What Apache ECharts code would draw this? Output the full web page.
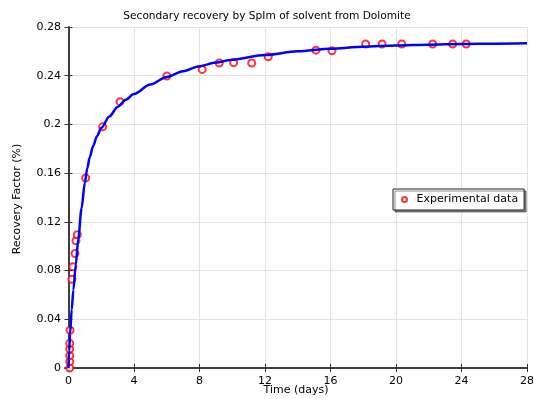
<!DOCTYPE html>
<html>
<head>
<meta charset="utf-8">
<script src="https://cdn.jsdelivr.net/npm/echarts@6/dist/echarts.min.js"></script>
<style>html,body{margin:0;padding:0;background:#fff}#c{width:534px;height:399px}</style>
</head>
<body>
<div id="c"></div>
<script>
// Experimental data
const expTime = [0.08, 0.08, 0.08, 0.08, 0.08, 0.1, 0.21, 0.27, 0.4, 0.46, 0.54, 1.05, 2.09, 3.15, 6.01, 8.17, 9.21, 10.09, 11.19, 12.2, 15.11, 16.09, 18.15, 19.15, 20.35, 22.24, 23.46, 24.29];
const expRecovery = [0, 0.0052, 0.0101, 0.0156, 0.0202, 0.031, 0.0728, 0.0832, 0.094, 0.1045, 0.1094, 0.156, 0.198, 0.2187, 0.2397, 0.2452, 0.2504, 0.2507, 0.2504, 0.2556, 0.261, 0.2605, 0.266, 0.266, 0.266, 0.266, 0.266, 0.266];
// Model curve
const modelTime = [0, 0.05, 0.1, 0.2, 0.3, 0.45, 0.6, 0.8, 1.0, 1.15, 1.3, 1.5, 1.75, 2.0, 2.5, 3.0, 3.5, 4.0, 5.0, 6.0, 7.0, 8.0, 9.0, 10, 12, 14, 16, 18, 20, 22, 24, 26, 28];
const modelRecovery = [0, 0.014, 0.028, 0.048, 0.064, 0.085, 0.106, 0.131, 0.152, 0.164, 0.173, 0.182, 0.1905, 0.197, 0.2065, 0.2143, 0.2203, 0.225, 0.2328, 0.239, 0.2437, 0.2478, 0.2508, 0.2532, 0.257, 0.26, 0.2622, 0.2638, 0.2648, 0.2655, 0.266, 0.2663, 0.2666];
// Tick labels
const xTicks = [0, 4, 8, 12, 16, 20, 24, 28];
const yTicks = [0, 0.04, 0.08, 0.12, 0.16, 0.2, 0.24, 0.28];

const FONT = 'DejaVu Sans';
const chart = echarts.init(document.getElementById('c'), null, {renderer: 'canvas'});
const axisLineStyle = {color: '#333', width: 1.5};
const tickStyle = {show: true, inside: true, length: 4, lineStyle: {color: '#333', width: 1}};
const gridLineStyle = {show: true, lineStyle: {color: '#e3e3e3', width: 1}};

chart.setOption({
  animation: false,
  backgroundColor: '#fff',
  textStyle: {fontFamily: FONT},
  title: {
    text: 'Secondary recovery by SpIm of solvent from Dolomite',
    left: 'center', top: 6,
    textStyle: {fontFamily: FONT, fontSize: 10.6, fontWeight: 'normal', color: '#000'}
  },
  grid: {left: 65, right: 7, top: 27, bottom: 28, containLabel: false, outerBoundsMode: 'none'},
  legend: {
    data: [{name: 'Experimental data', icon: 'emptyCircle'}],
    left: 393, top: 189,
    padding: [5, 6, 5, 8],
    itemWidth: 14, itemHeight: 5,
    backgroundColor: '#fff',
    borderColor: '#222', borderWidth: 1,
    shadowColor: 'rgba(0,0,0,0.45)', shadowBlur: 0, shadowOffsetX: 2, shadowOffsetY: 2,
    textStyle: {fontFamily: FONT, fontSize: 11, color: '#000'}
  },
  xAxis: [{
    type: 'value', min: -0.21, max: 28, position: 'bottom',
    name: 'Time (days)', nameLocation: 'middle', nameGap: 14, nameMoveOverlap: false,
    nameTextStyle: {fontFamily: FONT, fontSize: 11, color: '#000'},
    axisLine: {show: true, lineStyle: axisLineStyle},
    axisTick: Object.assign({customValues: xTicks}, tickStyle),
    axisLabel: {customValues: xTicks, margin: 5, fontFamily: FONT, fontSize: 11, color: '#000'},
    splitLine: gridLineStyle
  }, {
    type: 'value', min: -0.21, max: 28, position: 'top',
    axisLine: {show: true, lineStyle: axisLineStyle},
    axisTick: Object.assign({customValues: xTicks}, tickStyle),
    axisLabel: {show: false},
    splitLine: {show: false}
  }],
  yAxis: [{
    type: 'value', min: -0.0025, max: 0.28, position: 'left',
    name: 'Recovery Factor (%)', nameLocation: 'middle', nameGap: 42, nameMoveOverlap: false,
    nameTextStyle: {fontFamily: FONT, fontSize: 11, color: '#000'},
    axisLine: {show: true, lineStyle: axisLineStyle},
    axisTick: Object.assign({customValues: yTicks}, tickStyle),
    axisLabel: {customValues: yTicks, margin: 4, fontFamily: FONT, fontSize: 11, color: '#000'},
    splitLine: gridLineStyle
  }, {
    type: 'value', min: -0.0025, max: 0.28, position: 'right',
    axisLine: {show: true, lineStyle: axisLineStyle},
    axisTick: Object.assign({customValues: yTicks}, tickStyle),
    axisLabel: {show: false},
    splitLine: {show: false}
  }],
  series: [{
    name: 'Experimental data', type: 'scatter',
    xAxisIndex: 0, yAxisIndex: 0,
    symbol: 'emptyCircle', symbolSize: 7,
    itemStyle: {color: '#ff0000', borderColor: '#ff0000', borderWidth: 1},
    data: expTime.map((t, i) => [t, expRecovery[i]]),
    z: 2
  }, {
    name: 'Model', type: 'line',
    xAxisIndex: 0, yAxisIndex: 0,
    showSymbol: false, smooth: 0.3, smoothMonotone: 'x',
    lineStyle: {color: '#0000ff', width: 2.5},
    data: modelTime.map((t, i) => [t, modelRecovery[i]]),
    z: 3
  }]
});
</script>
</body>
</html>
